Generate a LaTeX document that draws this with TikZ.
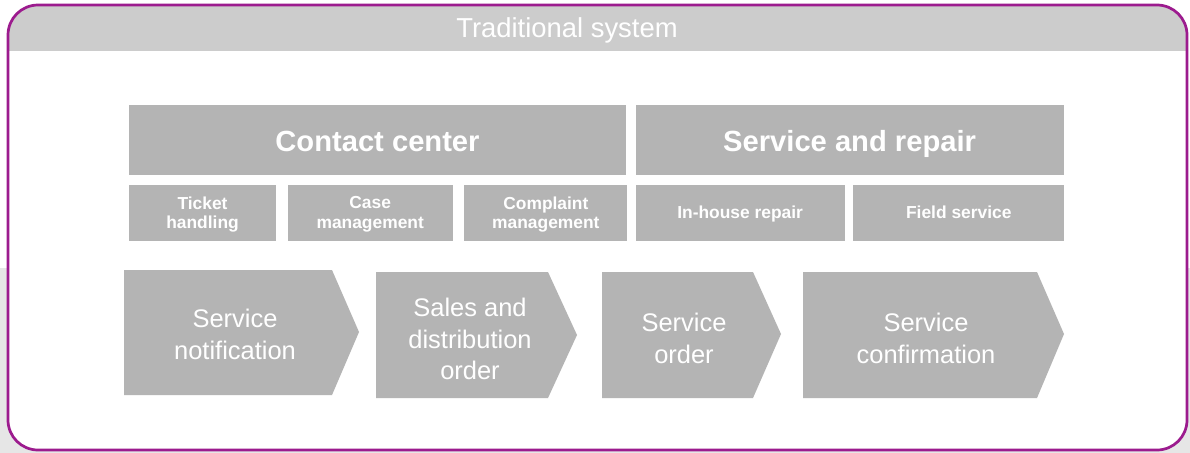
\documentclass[tikz,border=0pt]{standalone}
\usepackage{fontspec}
\setmainfont{Liberation Sans}
\usetikzlibrary{positioning}
\definecolor{framepurple}{RGB}{156,27,142}
\definecolor{boxgray}{RGB}{180,180,180}
\definecolor{headgray}{RGB}{204,204,204}
\definecolor{edgegray}{RGB}{230,230,230}
\tikzset{
    tradframe/.style={draw=framepurple, line width=1.55pt, rounded corners=0.6cm},
    tradhead/.style={text=white, font=\fontsize{15.6}{18}\selectfont},
    tradmodule/.style={fill=boxgray, text=white, inner sep=0pt, minimum height=1.4cm, text height=13.6pt, text depth=0pt, font=\bfseries\fontsize{16.6}{20}\selectfont},
    tradsub/.style={fill=boxgray, text=white, align=center, inner sep=0pt, minimum height=1.12cm, text depth=0pt, font=\bfseries\fontsize{9.9}{11.3}\selectfont},
    tradstep/.style={fill=boxgray},
    tradsteptext/.style={text=white, align=center, font=\fontsize{14.5}{18.1}\selectfont}
}

\begin{document}
\begin{tikzpicture}[x=0.02cm, y=-0.02cm]
    \useasboundingbox (0,0) rectangle (1190,453);
    \fill[edgegray] (0,268) rectangle (1190,453);
    \fill[white, rounded corners=0.6cm] (8,5) rectangle (1187,450);
    % header band
    \begin{scope}
        \clip[rounded corners=0.6cm] (8,5) rectangle (1187,450);
        \fill[headgray] (8,5) rectangle (1187,51);
    \end{scope}
    \draw[tradframe] (8,5) rectangle (1187,450);
    \node[tradhead] (title) at (567,30.5) {Traditional system};

    % modules
    \node[tradmodule, minimum width=9.94cm] (contact) at (377.5,140) {Contact center};
    \node[tradmodule, minimum width=8.56cm, right=0.18cm of contact] (repair) {Service and repair};

    \node[tradsub, minimum width=2.94cm, below right=0.18cm and 0cm of contact.south west] (ticket) {Ticket\\handling};
    \node[tradsub, minimum width=3.3cm, right=0.22cm of ticket] (casemgmt) {Case\\management};
    \node[tradsub, minimum width=3.26cm, right=0.22cm of casemgmt] (complaint) {Complaint\\management};
    \node[tradsub, minimum width=4.18cm, below right=0.18cm and 0cm of repair.south west] (inhouse) {In-house repair};
    \node[tradsub, minimum width=4.22cm, right=0.16cm of inhouse] (field) {Field service};

    % process steps
    \fill[tradstep] (124,270) -- (332,270) -- (359,332) -- (332,395) -- (124,395) -- cycle;
    \fill[tradstep] (376,272) -- (548,272) -- (577,335) -- (548,398) -- (376,398) -- cycle;
    \fill[tradstep] (602,272) -- (753,272) -- (781,334) -- (753,398) -- (602,398) -- cycle;
    \fill[tradstep] (803,272) -- (1037,272) -- (1064,334) -- (1037,398) -- (803,398) -- cycle;

    \node[tradsteptext] (notif) at (235,334.5) {Service\\notification};
    \node[tradsteptext] (sdorder) at (470,339) {Sales and\\distribution\\order};
    \node[tradsteptext] (svcorder) at (684,338) {Service\\order};
    \node[tradsteptext] (confirm) at (926,338) {Service\\confirmation};
\end{tikzpicture}
\end{document}
